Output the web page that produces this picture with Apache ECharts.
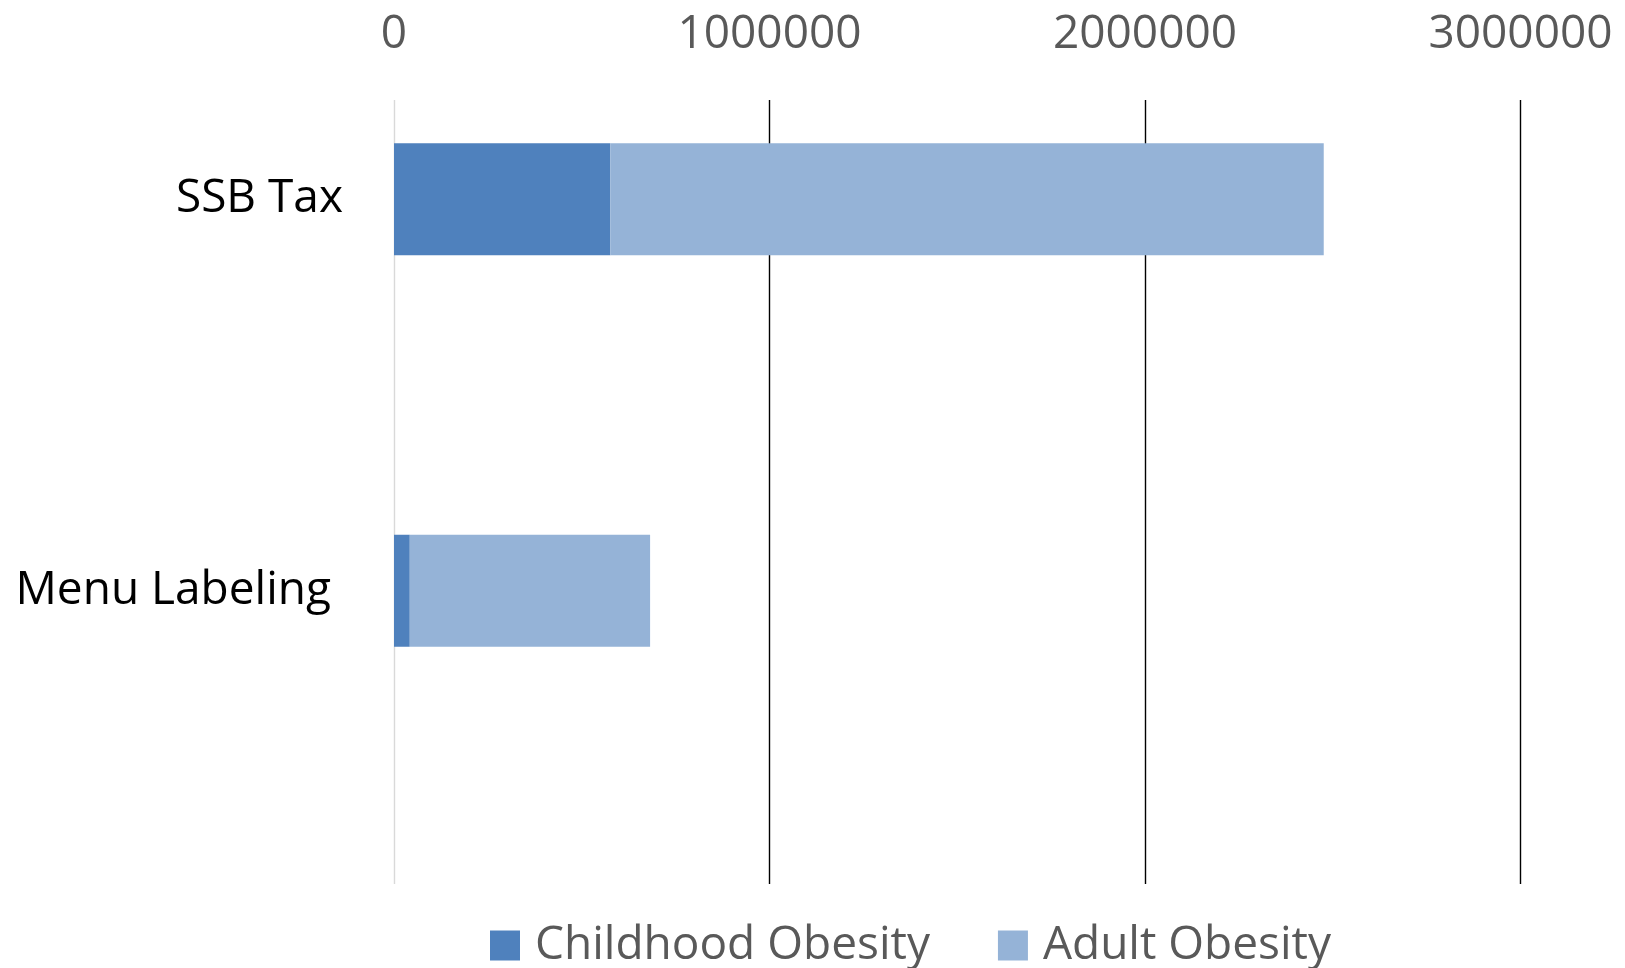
<!DOCTYPE html>
<html>
<head>
<meta charset="utf-8">
<script src="https://cdn.jsdelivr.net/npm/echarts@6/dist/echarts.min.js"></script>
<style>
html,body{margin:0;padding:0;background:#fff;}
#chart{width:1625px;height:968px;}
</style>
</head>
<body>
<div id="chart"></div>
<script>
const categories = ['SSB Tax', 'Menu Labeling'];
const childhoodObesity = [576000, 42000];
const adultObesity = [1900000, 640000];
const seriesNames = ['Childhood Obesity', 'Adult Obesity'];
const axisMin = 0, axisMax = 3000000, axisInterval = 1000000;

const chart = echarts.init(document.getElementById('chart'));
const FONT = 'Open Sans';
const gridLeft = 394, gridRight = 104.5;
chart.setOption({
  animation: false,
  backgroundColor: '#ffffff',
  legend: {
    bottom: -5.5,
    left: 485,
    itemWidth: 30,
    itemHeight: 30,
    itemGap: 68,
    icon: 'rect',
    data: seriesNames,
    textStyle: { fontFamily: FONT, fontSize: 46, color: '#595959', padding: [0, 0, 0, 10] }
  },
  grid: [
    { left: gridLeft, right: gridRight, top: 100, bottom: 84 },
    { left: gridLeft, right: gridRight, top: 3.3, height: 783.4 }
  ],
  xAxis: [
    {
      gridIndex: 0, type: 'value', position: 'top',
      min: axisMin, max: axisMax, interval: axisInterval,
      axisLine: { show: false }, axisTick: { show: false },
      axisLabel: { fontFamily: FONT, fontSize: 46, color: '#595959', margin: 42,
        formatter: function (v) { return String(v); } },
      splitLine: { show: true, lineStyle: { color: ['#d9d9d9', '#000000', '#000000', '#000000'], width: 1.4 } }
    },
    {
      gridIndex: 1, type: 'value', position: 'top',
      min: axisMin, max: axisMax, interval: axisInterval,
      show: false
    }
  ],
  yAxis: [
    {
      gridIndex: 0, type: 'category', inverse: true, data: categories,
      show: false
    },
    {
      gridIndex: 1, type: 'category', inverse: true, data: categories,
      axisLine: { show: false }, axisTick: { show: false },
      axisLabel: { fontFamily: FONT, fontSize: 46, color: '#000000', margin: 51,
        formatter: function (v, i) { return i === 1 ? '{m|' + v + '}' : v; },
        rich: { m: { fontFamily: FONT, fontSize: 46, color: '#000000', padding: [0, 12, 0, 0] } }
      }
    }
  ],
  series: [
    {
      name: seriesNames[0], type: 'bar', stack: 'total',
      xAxisIndex: 1, yAxisIndex: 1,
      barWidth: 112,
      itemStyle: { color: '#4f81bd' },
      data: childhoodObesity
    },
    {
      name: seriesNames[1], type: 'bar', stack: 'total',
      xAxisIndex: 1, yAxisIndex: 1,
      barWidth: 112,
      itemStyle: { color: '#95b3d7' },
      data: adultObesity
    }
  ]
});
</script>
</body>
</html>
